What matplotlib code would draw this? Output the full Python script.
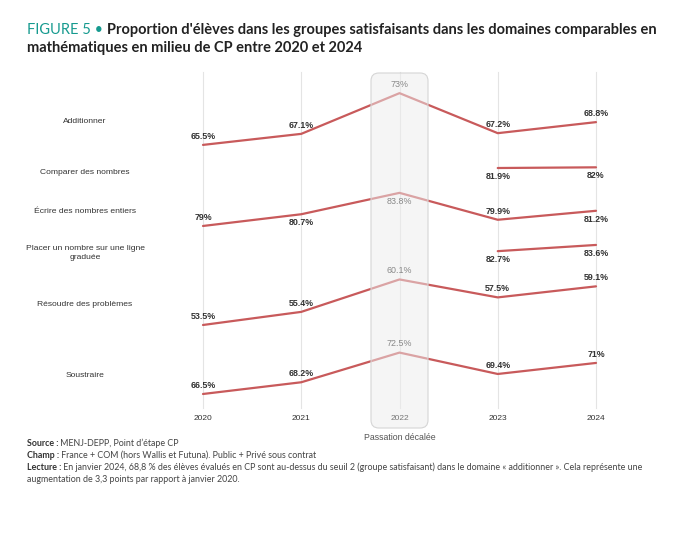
import matplotlib
matplotlib.use("Agg")
import matplotlib.pyplot as plt
from matplotlib.patches import FancyBboxPatch
from matplotlib.transforms import blended_transform_factory

# Data
years = [2020, 2021, 2022, 2023, 2024]
domains = [
    "Additionner",
    "Comparer des nombres",
    "Écrire des nombres entiers",
    "Placer un nombre sur une ligne\ngraduée",
    "Résoudre des problèmes",
    "Soustraire",
]
values = [
    [65.5, 67.1, 73.0, 67.2, 68.8],
    [None, None, None, 81.9, 82.0],
    [79.0, 80.7, 83.8, 79.9, 81.2],
    [None, None, None, 82.7, 83.6],
    [53.5, 55.4, 60.1, 57.5, 59.1],
    [66.5, 68.2, 72.5, 69.4, 71.0],
]
# label placement: 1 = above, -1 = below
label_side = [
    [1, 1, 1, 1, 1],
    [0, 0, 0, -1, -1],
    [1, -1, -1, 1, -1],
    [0, 0, 0, -1, -1],
    [1, 1, 1, 1, 1],
    [1, 1, 1, 1, 1],
]

# vertical stacking of rows (layout only)
row_shift = [86.5, 106.25, 111.75, 119.1, 100.6, 123.6]
name_nudge = [2, 5, 2, 5, 2, 2]  # px downward for row names
K = 6.9  # pixels per point

W, H = 680, 557
fig = plt.figure(figsize=(W / 100, H / 100), dpi=100)
ax = fig.add_axes([150 / W, 1 - 430 / H, 500 / W, 360 / H])
ax.set_xlim(2020 - 53 / 98.25, 2020 + 447 / 98.25)
ax.set_ylim(-430 / K, -70 / K)
ax.axis("off")

line_col = "#c85a5b"
txt_col = "#333333"

# vertical gridlines
for yr in years:
    ax.plot([yr, yr], [-72 / K, -408 / K], color="#e4e4e4", lw=0.8, zorder=1)
    ax.text(yr, -418 / K, str(yr), ha="center", va="center", fontsize=6.0,
            color="#777777" if yr == 2022 else txt_col, family="Liberation Sans", zorder=6)

trans = blended_transform_factory(fig.transFigure, ax.transData)
for i, (name, vals) in enumerate(zip(domains, values)):
    pts = [(yr, v - row_shift[i]) for yr, v in zip(years, vals) if v is not None]
    xs = [p[0] for p in pts]
    ys = [p[1] for p in pts]
    ax.plot(xs, ys, color=line_col, lw=1.6, zorder=3, solid_capstyle="round")
    for yr, v, side in zip(years, vals, label_side[i]):
        if v is None:
            continue
        grey = yr == 2022
        ax.annotate(f"{v:g}%", (yr, v - row_shift[i]),
                    xytext=(0, 3 * side), textcoords="offset points",
                    ha="center", va="bottom" if side > 0 else "top",
                    fontsize=6.4, fontweight="normal" if grey else "bold",
                    color="#888888" if grey else txt_col,
                    family="Liberation Sans", zorder=6)
    real = [v for v in vals if v is not None]
    mid = (min(real) + max(real)) / 2 - row_shift[i] - name_nudge[i] / K
    ax.text(85 / W, mid, name, transform=trans, ha="center", va="center",
            fontsize=6.1, color=txt_col, family="Liberation Sans",
            linespacing=1.35, clip_on=False)

# highlighted 2022 box
box = FancyBboxPatch((2022 - 0.29, -428 / K), 0.58, 355 / K,
                     boxstyle="round,pad=0,rounding_size=0.08",
                     mutation_aspect=98.25 / K,
                     facecolor=(0.93, 0.93, 0.93, 0.5), edgecolor="#d5d5d5",
                     lw=0.8, zorder=4)
ax.add_patch(box)
ax.text(2022, -437 / K, "Passation décalée", ha="center", va="center",
        fontsize=6.3, color="#555555", family="Liberation Sans", clip_on=False)

# title
fig.canvas.draw()
r = fig.canvas.get_renderer()
t1 = fig.text(27 / W, 1 - 30 / H, "FIGURE 5 • ", fontsize=10.5, color="#169a8f",
              family="Lato", va="center")
bb = t1.get_window_extent(r)
fig.text(bb.x1 / W, 1 - 30 / H, "Proportion d'élèves dans les groupes satisfaisants dans les domaines comparables en",
         fontsize=10.5, fontweight="bold", color="#222222", family="Lato", va="center")
fig.text(27 / W, 1 - 48 / H, "mathématiques en milieu de CP entre 2020 et 2024",
         fontsize=10.5, fontweight="bold", color="#222222", family="Lato", va="center")

# footer
foot = [
    ("Source :", " MENJ-DEPP, Point d\u2019étape CP", 443),
    ("Champ :", " France + COM (hors Wallis et Futuna). Public + Privé sous contrat", 455),
    ("Lecture :", " En janvier 2024, 68,8 % des élèves évalués en CP sont au-dessus du seuil 2 "
     "(groupe satisfaisant) dans le domaine « additionner ». Cela représente une", 467),
    ("", "augmentation de 3,3 points par rapport à janvier 2020.", 479),
]
for bold, rest, py in foot:
    x = 27
    if bold:
        tb = fig.text(x / W, 1 - py / H, bold, fontsize=6.4, fontweight="bold",
                      color=txt_col, family="Lato", va="center")
        x = tb.get_window_extent(r).x1
    fig.text(x / W, 1 - py / H, rest, fontsize=6.4, color="#444444",
             family="Lato", va="center")

fig.savefig("out.png", dpi=100)
